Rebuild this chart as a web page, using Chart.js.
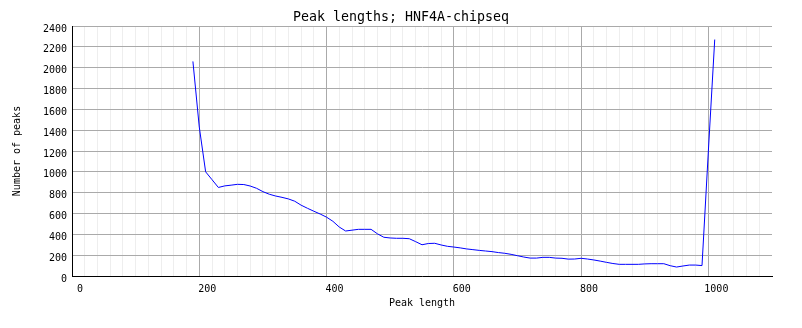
<!DOCTYPE html>
<html><head><meta charset="utf-8">
<script src="https://cdn.jsdelivr.net/npm/chart.js@4"></script>
<style>html,body{margin:0;padding:0;background:#fff}canvas{display:block}</style>
</head><body>
<canvas id="c" width="802" height="328"></canvas>
<script>
const chartTitle = 'Peak lengths; HNF4A-chipseq';
const xAxisTitle = 'Peak length';
const yAxisTitle = 'Number of peaks';

const peakLengths = [190,200,210,220,230,240,250,260,270,280,290,300,310,320,330,340,350,360,370,380,390,
  400,410,420,430,440,450,460,470,480,490,500,510,520,530,540,550,560,570,580,590,
  600,610,620,630,640,650,660,670,680,690,700,710,720,730,740,750,760,770,780,790,
  800,810,820,830,840,850,860,870,880,890,900,910,920,930,940,950,960,970,980,990,1000,1010];
const peakCounts = [2060,1430,1000,925,850,865,872,880,878,864,842,810,785,768,755,740,718,680,650,622,595,
  565,525,470,432,440,448,448,448,405,372,365,362,362,358,330,300,312,314,298,285,
  278,270,260,253,246,240,234,225,218,208,195,182,172,172,179,179,172,170,162,163,
  170,163,154,143,131,120,112,112,112,112,116,118,118,118,99,86,96,105,105,100,1200,2270];

const xMajorTicks = [0,200,400,600,800,1000];
const yTicks = [0,200,400,600,800,1000,1200,1400,1600,1800,2000,2200,2400];

const FONT = 'DejaVu Sans Mono';

new Chart(document.getElementById('c'), {
  type: 'line',
  data: {
    datasets: [{
      data: peakLengths.map((x, i) => ({x: x, y: peakCounts[i]})),
      borderColor: '#0000ff',
      borderWidth: 1,
      pointRadius: 0,
      tension: 0,
      fill: false
    }]
  },
  options: {
    responsive: false,
    animation: false,
    layout: {padding: 0},
    plugins: {
      legend: {display: false},
      tooltip: {enabled: false},
      title: {
        display: true, text: chartTitle, color: '#000',
        font: {family: FONT, size: 13.3, weight: 'normal'},
        padding: {top: 10, bottom: 0.04}
      }
    },
    scales: {
      x: {
        type: 'linear', min: 0, max: 1100,
        afterFit: s => { s.height = 52; },
        border: {color: '#000', width: 1},
        grid: {
          drawTicks: false,
          color: ctx => (ctx.tick && ctx.tick.value === 1100) ? 'rgba(0,0,0,0)' :
                 (ctx.tick && xMajorTicks.includes(ctx.tick.value)) ? '#aaaaaa' : '#eeeeee'
        },
        ticks: {
          stepSize: 20, autoSkip: false, maxRotation: 0, minRotation: 0,
          padding: 7, labelOffset: 8, color: '#000',
          font: {family: FONT, size: 10},
          callback: v => xMajorTicks.includes(v) ? String(v) : ''
        },
        title: {
          display: true, text: xAxisTitle, color: '#000',
          font: {family: FONT, size: 10}, padding: {top: 0, bottom: 19}
        }
      },
      y: {
        type: 'linear', min: 0, max: 2400,
        afterFit: s => { s.width = 72; },
        border: {color: '#000', width: 1},
        grid: {drawTicks: false, color: '#aaaaaa'},
        afterBuildTicks: s => { s.ticks = yTicks.map(v => ({value: v})); },
        ticks: {
          padding: 5, labelOffset: 3, color: '#000',
          font: {family: FONT, size: 10},
          callback: v => String(v)
        },
        title: {
          display: true, text: yAxisTitle, color: '#000',
          font: {family: FONT, size: 10}, padding: {top: 11, bottom: 0}
        }
      },
      rightSpace: {
        type: 'linear', position: 'right', display: true,
        afterFit: s => { s.width = 30; },
        grid: {display: false, drawOnChartArea: false},
        border: {display: false},
        ticks: {display: false}
      }
    }
  }
});
</script>
</body></html>
